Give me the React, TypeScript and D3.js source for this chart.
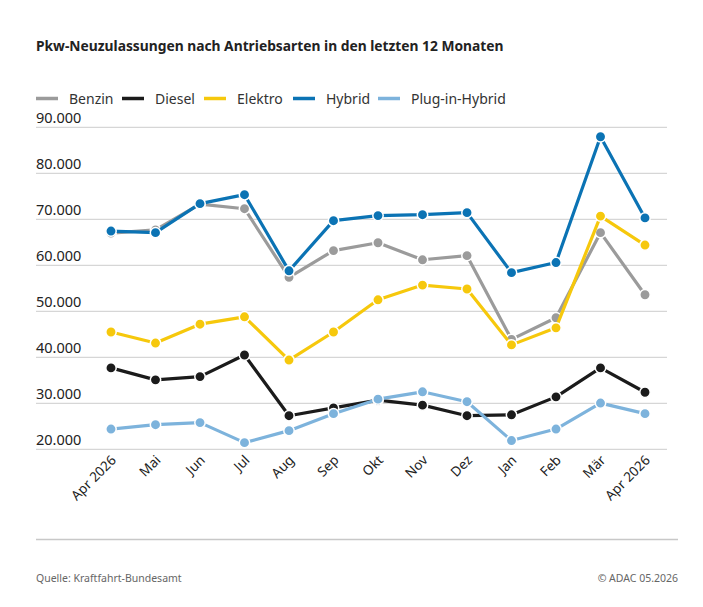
import { useEffect, useRef } from "react"
import * as d3 from "d3"

const months = ["Apr 2026", "Mai", "Jun", "Jul", "Aug", "Sep", "Okt", "Nov", "Dez", "Jan", "Feb", "Mär", "Apr 2026"]

const benzin = [67000, 67700, 73300, 72300, 57400, 63200, 64900, 61200, 62100, 43900, 48600, 67100, 53600]
const diesel = [37700, 35100, 35800, 40500, 27300, 29000, 30700, 29600, 27300, 27500, 31400, 37700, 32400]
const elektro = [45500, 43100, 47200, 48800, 39400, 45500, 52500, 55700, 54850, 42700, 46400, 70700, 64400]
const hybrid = [67450, 67100, 73400, 75350, 58800, 69700, 70800, 71000, 71450, 58400, 60600, 87950, 70300]
const plugInHybrid = [24400, 25350, 25800, 21450, 24050, 27750, 30900, 32500, 30350, 21900, 24400, 30050, 27750]

const yTicks = [20000, 30000, 40000, 50000, 60000, 70000, 80000, 90000]

interface Series {
  name: string
  values: number[]
  color: string
}

const series: Series[] = [
  { name: "Benzin", values: benzin, color: "#9b9b9b" },
  { name: "Diesel", values: diesel, color: "#1b1b1b" },
  { name: "Elektro", values: elektro, color: "#f6c80c" },
  { name: "Hybrid", values: hybrid, color: "#0b73b4" },
  { name: "Plug-in-Hybrid", values: plugInHybrid, color: "#7db3dc" },
]

const WIDTH = 703
const HEIGHT = 607
const FONT = "'Noto Sans', sans-serif"

function LineChart() {
  const svgRef = useRef<SVGSVGElement>(null)

  useEffect(() => {
    if (!svgRef.current) return
    const svg = d3.select(svgRef.current)
    svg.selectAll("*").remove()

    const gridLeft = 36
    const gridRight = 667

    const x = d3
      .scalePoint<number>()
      .domain(d3.range(months.length))
      .range([111, 645])

    const y = d3.scaleLinear().domain([20000, 90000]).range([449.3, 127.3])

    const fmt = (v: number) => d3.format(",")(v).replace(/,/g, ".")

    svg.append("rect").attr("width", WIDTH).attr("height", HEIGHT).attr("fill", "#fff")

    // Title
    svg
      .append("text")
      .attr("x", 36)
      .attr("y", 51)
      .style("font-family", FONT)
      .style("font-size", "13.8px")
      .style("font-weight", "bold")
      .style("fill", "#222")
      .text("Pkw-Neuzulassungen nach Antriebsarten in den letzten 12 Monaten")

    // Legend
    const legendX = [36, 122, 204, 293, 378]
    series.forEach((s, i) => {
      const row = svg.append("g").attr("transform", `translate(${legendX[i]}, 98.5)`)
      row.append("line").attr("x1", 0).attr("x2", 22).attr("stroke", s.color).attr("stroke-width", 3.5)
      row
        .append("text")
        .attr("x", 33)
        .attr("y", 5)
        .style("font-family", FONT)
        .style("font-size", "14px")
        .style("fill", "#333")
        .text(s.name)
    })

    // Grid + y labels
    const grid = svg.append("g")
    yTicks.forEach((t) => {
      grid
        .append("line")
        .attr("x1", gridLeft)
        .attr("x2", gridRight)
        .attr("y1", y(t))
        .attr("y2", y(t))
        .attr("stroke", "#cccccc")
        .attr("stroke-width", 1)
      grid
        .append("text")
        .attr("x", gridLeft)
        .attr("y", y(t) - 4.5)
        .style("font-family", FONT)
        .style("font-size", "14.5px")
        .style("fill", "#222")
        .text(fmt(t))
    })

    // X labels
    svg
      .append("g")
      .selectAll("text")
      .data(months)
      .enter()
      .append("text")
      .attr("transform", (_, i) => `translate(${(x(i) || 0) + 6}, 461) rotate(-45)`)
      .attr("text-anchor", "end")
      .style("font-family", FONT)
      .style("font-size", "13.5px")
      .style("fill", "#222")
      .text((d) => d)

    // Lines
    const line = d3
      .line<number>()
      .x((_, i) => x(i) || 0)
      .y((d) => y(d))

    series.forEach((s) => {
      const g = svg.append("g")
      g.append("path")
        .datum(s.values)
        .attr("fill", "none")
        .attr("stroke", s.color)
        .attr("stroke-width", 3.2)
        .attr("stroke-linejoin", "round")
        .attr("d", line)

      g.selectAll("circle")
        .data(s.values)
        .enter()
        .append("circle")
        .attr("cx", (_, i) => x(i) || 0)
        .attr("cy", (d) => y(d))
        .attr("r", 5.2)
        .attr("fill", s.color)
        .attr("stroke", "#fff")
        .attr("stroke-width", 1.5)
    })

    // Bottom rule
    svg
      .append("line")
      .attr("x1", 36)
      .attr("x2", 678)
      .attr("y1", 539.5)
      .attr("y2", 539.5)
      .attr("stroke", "#c8c8c8")
      .attr("stroke-width", 1.5)

    // Footer
    svg
      .append("text")
      .attr("x", 36)
      .attr("y", 582)
      .style("font-family", FONT)
      .style("font-size", "10.5px")
      .style("fill", "#666")
      .text("Quelle: Kraftfahrt-Bundesamt")

    svg
      .append("text")
      .attr("x", 678)
      .attr("y", 582)
      .attr("text-anchor", "end")
      .style("font-family", FONT)
      .style("font-size", "10.5px")
      .style("fill", "#666")
      .text("© ADAC 05.2026")
  }, [])

  return <svg ref={svgRef} width={WIDTH} height={HEIGHT} style={{ display: "block" }} />
}

export default function App() {
  return (
    <div style={{ position: "absolute", left: 0, top: 0 }}>
      <LineChart />
    </div>
  )
}
